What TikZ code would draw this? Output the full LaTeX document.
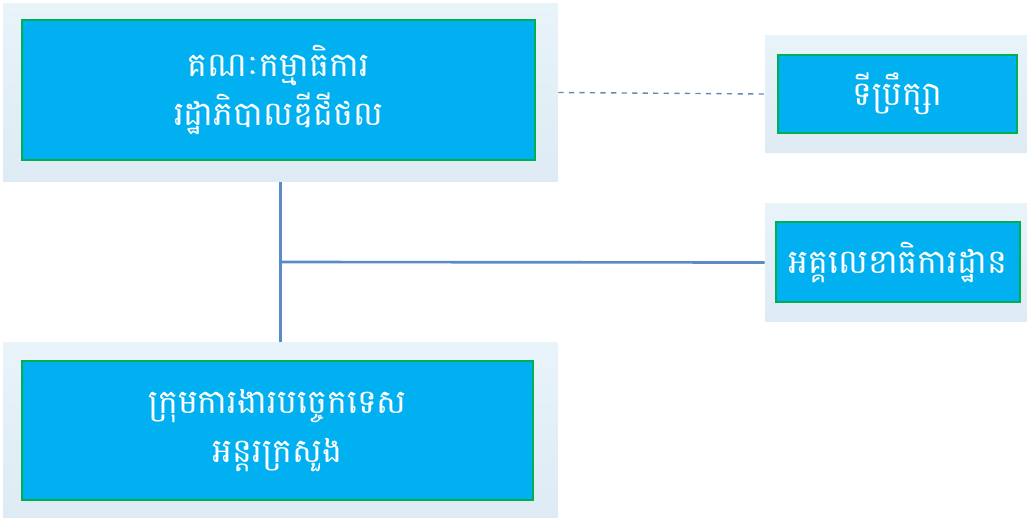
\documentclass[tikz,border=0pt]{standalone}
\usepackage{fontspec}
\newfontfamily\khmerfont[Script=Khmer]{Battambang}
\usepackage{xcolor}
\definecolor{boxblue}{RGB}{0,176,240}
\definecolor{boxgreen}{RGB}{0,176,80}
\definecolor{paleback}{RGB}{222,235,244}
\definecolor{palelight}{RGB}{232,243,250}
\definecolor{linkblue}{RGB}{91,139,198}
\usepackage{tikz}
\usetikzlibrary{positioning}
\tikzset{
	backpanel/.style={top color=palelight, bottom color=paleback, inner sep=0pt},
	unitbox/.style={fill=boxblue, draw=boxgreen, line width=1.2pt, inner sep=0pt, text=white, align=center, font=\khmerfont\fontsize{19}{28}\selectfont},
	link/.style={linkblue, line width=1.5pt}
}

\begin{document}
\begin{tikzpicture}[x=0.02cm,y=-0.02cm]
	\useasboundingbox (0,0) rectangle (1031,518);
	% back panels
	\node[backpanel, minimum width=11.1cm, minimum height=3.58cm] (govback) at (280.5,92.5) {};
	\node[backpanel, minimum width=5.24cm, minimum height=2.36cm] (advback) at (896,94) {};
	\node[backpanel, minimum width=5.24cm, minimum height=2.38cm] (secback) at (896,262.5) {};
	\node[backpanel, minimum width=11.1cm, minimum height=3.52cm] (techback) at (280.5,430) {};
	
	% units
	\node[unitbox, minimum width=10.26cm, minimum height=2.8cm] (gov) at (278.5,90) {គណៈកម្មាធិការ\\រដ្ឋាភិបាលឌីជីថល};
	\node[unitbox, minimum width=4.78cm, minimum height=1.56cm] (adv) at (897.5,94) {ទីប្រឹក្សា};
	\node[unitbox, minimum width=4.88cm, minimum height=1.6cm] (sec) at (898,262) {អគ្គលេខាធិការដ្ឋាន};
	\node[unitbox, minimum width=10.22cm, minimum height=2.78cm] (tech) at (277.5,430.5) {ក្រុមការងារបច្ចេកទេស\\អន្តរក្រសួង};
	
	%%% links
	\coordinate (j) at (282,262);
	\draw[link] (govback.south) -- (techback.north);
	\draw[link] (j) -- (secback.west);
	\draw[link, dashed, line width=0.8pt, linkblue!80!gray] (govback.east) -- (advback.west);
\end{tikzpicture}
\end{document}
